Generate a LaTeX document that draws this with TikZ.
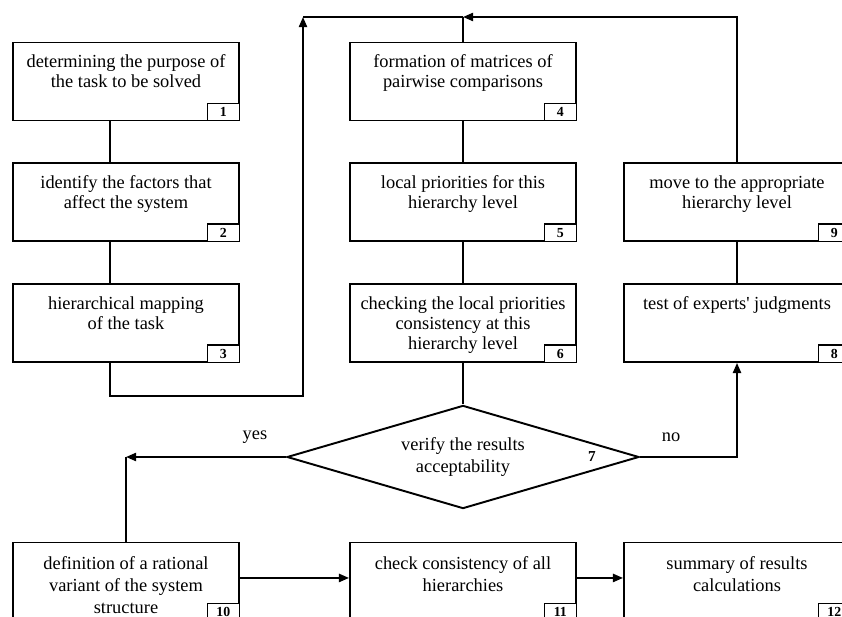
\documentclass[tikz,border=0pt]{standalone}
\usepackage{fontspec}
\setmainfont{Liberation Serif}
\usetikzlibrary{shapes,arrows,arrows.meta,positioning}

\newcommand{\boxtxt}[2][14.5pt]{\parbox[t][19.8mm][t]{57.4mm}{\centering\fontsize{13.3pt}{#1}\selectfont\vspace*{2.8mm}\strut #2}}

\begin{document}
\begin{tikzpicture}[
    x=0.254mm, y=-0.254mm,
    stepbox/.style={rectangle, draw, line width=1.4pt, inner sep=0pt},
    numbox/.style={rectangle, draw, line width=1pt, fill=white, inner sep=0pt, minimum width=8.1mm, minimum height=4.4mm, anchor=south east, font=\fontsize{10}{11}\selectfont\bfseries},
    decision/.style={diamond, draw, line width=1.4pt, aspect=3.4, minimum width=89.4mm, minimum height=26.2mm, inner sep=0pt, align=center, font=\fontsize{13.3}{16}\selectfont},
    tag/.style={font=\fontsize{13.3}{16}\selectfont},
    link/.style={line width=1.4pt},
    arrow/.style={link, -{Triangle[length=2.6mm,width=2.1mm]}}
]
\useasboundingbox (0,0) rectangle (842,617);
\clip (0,0) rectangle (842,617);

% First column
\node[stepbox] at (126,81.5) (purpose) {\boxtxt{determining the purpose of\\ the task to be solved}};
\node[stepbox] at (126,202) (factors) {\boxtxt{identify the factors that\\ affect the system}};
\node[stepbox] at (126,323) (mapping) {\boxtxt{hierarchical mapping\\ of the task}};

% Second column
\node[stepbox] at (463,81.5) (matrices) {\boxtxt{formation of matrices of\\ pairwise comparisons}};
\node[stepbox] at (463,202) (local) {\boxtxt{local priorities for this\\ hierarchy level}};
\node[stepbox] at (463,323) (consist) {\boxtxt{checking the local priorities\\ consistency at this\\ hierarchy level}};

% Third column
\node[stepbox] at (737,202) (move) {\boxtxt{move to the appropriate\\ hierarchy level}};
\node[stepbox] at (737,323) (judge) {\boxtxt{test of experts\textquotesingle{} judgments}};

% Decision
\node[decision] at (463,457) (verify) {verify the results\\ acceptability};
\node[font=\fontsize{11}{12}\selectfont\bfseries] at (592,457) (n7) {7};
\node[tag] at (255,437) (yes) {yes};
\node[tag] at (671,437) (no) {no};

% Bottom row
\node[stepbox] at (126,581.5) (rational) {\boxtxt[16pt]{definition of a rational\\ variant of the system\\ structure}};
\node[stepbox] at (463,581.5) (allcheck) {\boxtxt[16pt]{check consistency of all\\ hierarchies}};
\node[stepbox] at (737,581.5) (summary) {\boxtxt[16pt]{summary of results\\ calculations}};

% Number tags
\node[numbox] at (purpose.south east) (n1) {1};
\node[numbox] at (factors.south east) (n2) {2};
\node[numbox] at (mapping.south east) (n3) {3};
\node[numbox] at (matrices.south east) (n4) {4};
\node[numbox] at (local.south east) (n5) {5};
\node[numbox] at (consist.south east) (n6) {6};
\node[numbox] at (judge.south east) (n8) {8};
\node[numbox] at (move.south east) (n9) {9};
\node[numbox] at (rational.south east) (n10) {10};
\node[numbox] at (allcheck.south east) (n11) {11};
\node[numbox] at (summary.south east) (n12) {12};

% Turning points
\coordinate (loopturn) at (303,396);
\coordinate (looptop) at (303,17);
\coordinate (top) at (463,17);
\coordinate (yesend) at (126,457);

% Links
\draw[link] ([xshift=-4.06mm]purpose.south) -- ([xshift=-4.06mm]factors.north);
\draw[link] ([xshift=-4.06mm]factors.south) -- ([xshift=-4.06mm]mapping.north);
\draw[arrow] ([xshift=-4.06mm]mapping.south) |- (loopturn) -- (looptop);
\draw[link] (looptop) -- (top);
\draw[link] (matrices.north) -- (top);
\draw[arrow] (move.north) |- (top);
\draw[link] (matrices) -- (local);
\draw[link] (local) -- (consist);
\draw[link] (consist) -- (verify);
\draw[link] (move) -- (judge);
\draw[arrow] (verify.east) -| (judge.south);
\draw[arrow] (verify.west) -- (yesend);
\draw[link] (yesend) -- (rational.north);
\draw[arrow] ([yshift=0.9mm]rational.east) -- ([yshift=0.9mm]allcheck.west);
\draw[arrow] ([yshift=0.9mm]allcheck.east) -- ([yshift=0.9mm]summary.west);

\end{tikzpicture}
\end{document}
